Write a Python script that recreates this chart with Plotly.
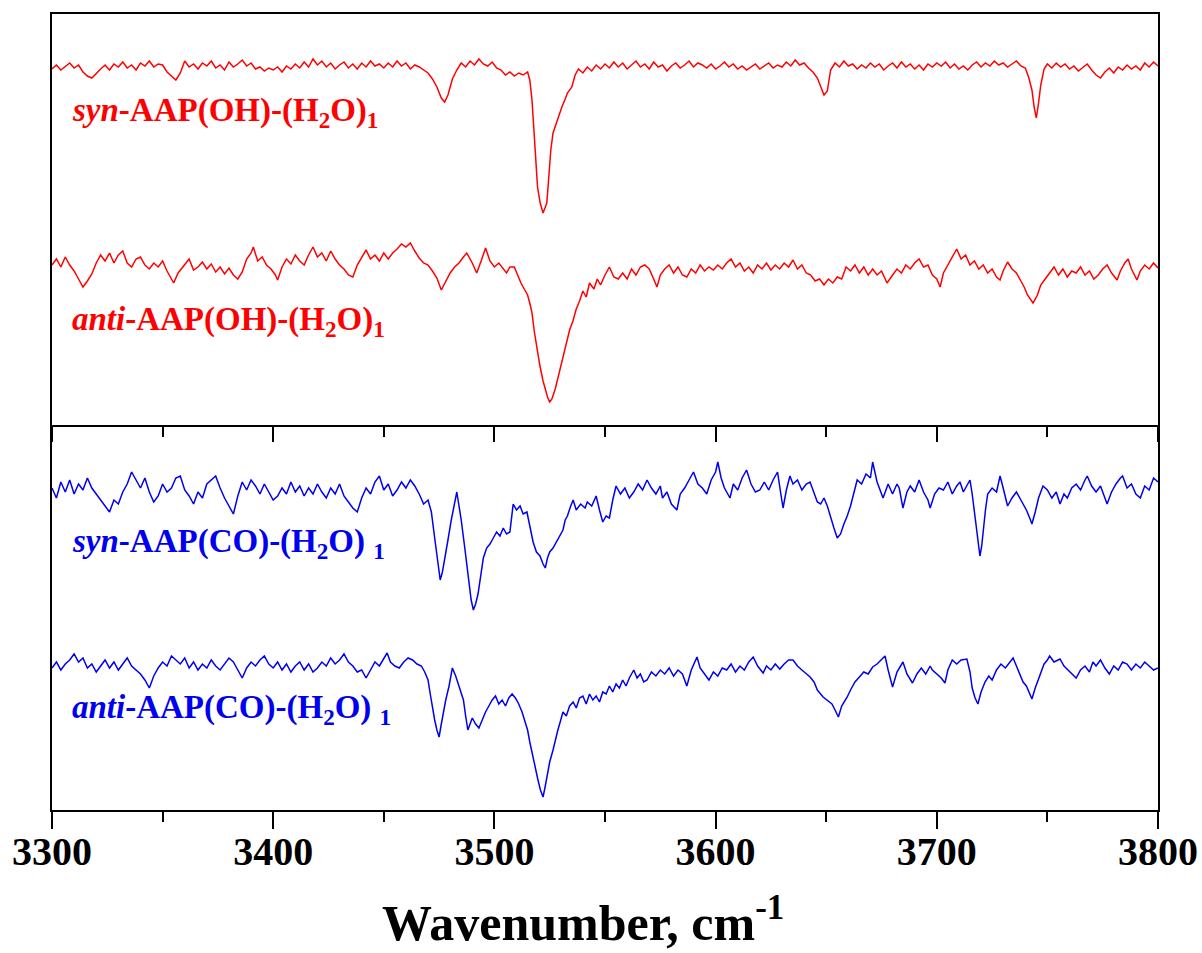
import plotly.graph_objects as go

# Wavenumber (cm^-1) and signal (a.u.) pairs for each spectrum
syn_oh = [(3300,356),(3302,360),(3304,355),(3306,359),(3308,362),(3310,357),(3312,360),(3314,353),(3316,349),(3318,347),(3320,352),(3322,356),(3324,360),(3326,355),(3328,361),(3330,358),(3332,363),(3334,357),(3336,360),(3338,355),(3340,362),(3342,359),(3344,364),(3346,358),(3348,361),(3350,360),(3352,353),(3354,349),(3356,345),(3358,352),(3360,364),(3362,358),(3364,361),(3366,356),(3368,362),(3370,359),(3372,364),(3374,357),(3376,360),(3378,355),(3380,363),(3382,358),(3384,361),(3386,365),(3388,359),(3390,362),(3392,356),(3394,358),(3396,354),(3398,357),(3400,355),(3402,358),(3404,353),(3406,359),(3408,356),(3410,361),(3412,357),(3414,363),(3416,358),(3418,366),(3420,360),(3422,364),(3424,358),(3426,362),(3428,356),(3430,360),(3432,363),(3434,357),(3436,361),(3438,356),(3440,362),(3442,358),(3444,364),(3446,359),(3448,361),(3450,357),(3452,362),(3454,358),(3456,364),(3458,359),(3460,362),(3462,356),(3464,360),(3466,358),(3468,355),(3470,352),(3472,346),(3474,338),(3476,327),(3477.5,323),(3479,330),(3481,346),(3483,355),(3485,362),(3487,358),(3489,364),(3491,360),(3493,366),(3495,361),(3497,359),(3499,363),(3501,357),(3503,355),(3505,350),(3507,353),(3509,349),(3511,352),(3513,350),(3515,353),(3516,345),(3517,325),(3518,285),(3519.5,238),(3520.7,222),(3522,212),(3523.7,222),(3524.7,252),(3525.5,275),(3526.5,292),(3528,302),(3529,310),(3530.5,318),(3532,326),(3533,332),(3535,338),(3536.5,350),(3538,356),(3540,352),(3542,358),(3544,354),(3546,360),(3548,356),(3550,361),(3552,357),(3554,363),(3556,358),(3558,362),(3560,356),(3562,360),(3564,364),(3566,358),(3568,361),(3570,356),(3572,363),(3574,358),(3576,360),(3578,354),(3580,359),(3582,362),(3584,357),(3586,360),(3588,364),(3590,358),(3592,362),(3594,360),(3596,357),(3598,361),(3600,356),(3602,359),(3604,363),(3606,358),(3608,361),(3610,356),(3612,359),(3614,355),(3616,358),(3618,361),(3620,356),(3622,359),(3624,362),(3626,357),(3628,360),(3630,358),(3632,363),(3634,359),(3636,365),(3638,360),(3640,362),(3642,357),(3644,353),(3646,347),(3647.5,338),(3649,330),(3650.5,334),(3652,355),(3654,362),(3656,358),(3658,364),(3660,359),(3662,361),(3664,356),(3666,360),(3668,357),(3670,362),(3672,358),(3674,361),(3676,355),(3678,359),(3680,362),(3682,357),(3684,363),(3686,358),(3688,361),(3690,356),(3692,360),(3694,355),(3696,361),(3698,358),(3700,362),(3702,359),(3704,363),(3706,357),(3708,361),(3710,356),(3712,359),(3714,355),(3716,360),(3718,363),(3720,358),(3722,362),(3724,359),(3726,364),(3728,360),(3730,362),(3732,358),(3734,361),(3736,364),(3738,359),(3740,357),(3741.5,348),(3743,335),(3744,318),(3745,307),(3746,322),(3747,340),(3748.5,356),(3750,361),(3752,357),(3754,362),(3756,358),(3758,361),(3760,356),(3762,359),(3764,354),(3766,358),(3768,361),(3770,355),(3772,350),(3774,347),(3776,353),(3778,357),(3780,352),(3782,358),(3784,355),(3786,360),(3788,356),(3790,359),(3792,355),(3794,362),(3796,358),(3798,363),(3800,359)]

anti_oh = [(3300,160),(3302,166),(3304,158),(3306,168),(3308,160),(3310,154),(3312,146),(3314,138),(3316,144),(3318,151),(3320,162),(3322,170),(3324,164),(3326,172),(3328,162),(3330,170),(3332,174),(3334,162),(3336,158),(3338,166),(3340,168),(3342,160),(3344,156),(3346,162),(3348,158),(3350,164),(3352,154),(3354,146),(3355,142),(3357,152),(3360,160),(3362,166),(3364,155),(3366,158),(3368,163),(3370,156),(3372,161),(3374,153),(3376,158),(3378,151),(3380,157),(3382,150),(3384,146),(3386,153),(3388,166),(3390,172),(3391,178),(3393,164),(3395,168),(3397,160),(3399,156),(3401,150),(3402,145),(3404,158),(3406,166),(3408,161),(3410,170),(3412,164),(3414,160),(3416,170),(3418,178),(3420,168),(3422,172),(3424,164),(3426,174),(3428,166),(3430,160),(3432,156),(3434,150),(3436,148),(3438,160),(3440,168),(3442,175),(3444,166),(3446,170),(3448,164),(3450,172),(3452,166),(3454,172),(3456,176),(3458,181),(3460,178),(3462,182),(3464,174),(3466,167),(3468,162),(3470,160),(3472,154),(3474,147),(3476,135),(3478,144),(3480,152),(3482,158),(3484,162),(3486,168),(3487.5,172),(3490,162),(3492,152),(3494,164),(3496,177),(3498,164),(3500,158),(3502,162),(3504,156),(3505.5,152),(3507,158),(3509,158),(3510.5,150),(3512,142),(3513.5,136),(3515,130),(3516,122),(3517,112),(3518,94),(3519,80),(3520.5,60),(3522,44),(3523,36),(3524,28),(3525,23),(3526,26),(3527.5,36),(3529,50),(3530,60),(3531,68),(3532,76),(3533,86),(3534,95),(3535.5,104),(3537,116),(3538.5,124),(3540,134),(3541.5,128),(3543,142),(3545,136),(3546.5,146),(3548,140),(3550,150),(3552,158),(3554,148),(3556,146),(3558,152),(3560,146),(3562,156),(3564,150),(3566,158),(3568,160),(3570,156),(3572,146),(3573.5,138),(3575,150),(3577,156),(3579,160),(3581,152),(3583,158),(3585,150),(3587,148),(3589,156),(3591,152),(3593,160),(3595,154),(3597,158),(3599,155),(3601,160),(3603,156),(3605,162),(3607,166),(3609,158),(3611,162),(3613,154),(3615,158),(3617,152),(3619,160),(3621,156),(3623,162),(3625,155),(3627,160),(3629,156),(3631,162),(3633,158),(3635,165),(3637,156),(3639,160),(3641,152),(3643,150),(3645,144),(3647,146),(3649,140),(3651,146),(3653,142),(3655,148),(3657,146),(3659,158),(3661,154),(3663,160),(3665,152),(3667,158),(3669,150),(3671,156),(3673,150),(3675,154),(3677.5,142),(3680,150),(3682,156),(3684,152),(3686,160),(3688,156),(3690,162),(3692,166),(3694,158),(3696,160),(3698,150),(3700,146),(3701.5,138),(3703,152),(3705,160),(3707,168),(3709,176),(3711,166),(3713,170),(3715,160),(3717,164),(3719,156),(3721,160),(3723,152),(3725,156),(3727,148),(3728.6,145),(3730,154),(3732,163),(3734,156),(3736,152),(3738,144),(3739.5,138),(3741,130),(3743.5,122),(3745.5,130),(3747,140),(3749,146),(3751,152),(3753,158),(3755,150),(3757,156),(3759,148),(3761,154),(3763,152),(3765,158),(3767,150),(3769,154),(3771,146),(3773,150),(3775,156),(3777,160),(3779,152),(3781.5,145),(3783,154),(3785,162),(3786.5,166),(3788,156),(3790.5,145),(3792,154),(3794,160),(3796,156),(3798,162),(3800,157)]

syn_co = [(3300,322),(3302,312),(3304,328),(3306,318),(3308,330),(3310,316),(3312,326),(3314,320),(3316,332),(3318,322),(3320,316),(3322,310),(3324,304),(3326,298),(3328,310),(3330,306),(3332,318),(3334,326),(3336,338),(3338,330),(3340,322),(3342,332),(3344,318),(3346,308),(3348,314),(3350,326),(3352,318),(3354,322),(3356,332),(3358,334),(3360,320),(3362,314),(3364,306),(3366,318),(3368,312),(3370,326),(3372,330),(3374,334),(3376,322),(3378,312),(3380,304),(3382,296),(3384,314),(3386,328),(3388,320),(3390,330),(3392,324),(3394,316),(3396,326),(3398,318),(3400,310),(3402,314),(3404,322),(3406,316),(3408,328),(3410,318),(3412,324),(3414,314),(3416,322),(3418,316),(3420,326),(3422,318),(3424,312),(3426,322),(3428,316),(3430,326),(3432,314),(3434,308),(3436,302),(3438,298),(3440,312),(3442,322),(3444,316),(3446,328),(3448,334),(3450,320),(3452,326),(3454,314),(3456,320),(3458,328),(3460,322),(3462,330),(3464,324),(3466,316),(3468,306),(3470,310),(3471.5,298),(3473,272),(3474.5,244),(3475.5,230),(3476.5,238),(3477.7,252),(3479,270),(3480.5,290),(3482,306),(3483,318),(3484,304),(3485,290),(3486.5,264),(3487.5,246),(3488.5,228),(3489.5,210),(3490.5,200),(3491.5,206),(3492.6,216),(3494,238),(3495,252),(3496.5,262),(3498,266),(3499.5,272),(3501,278),(3502.5,274),(3504,282),(3505.5,276),(3507,278),(3508.5,306),(3510,300),(3511.6,304),(3513,296),(3514.7,298),(3516,284),(3517.5,268),(3519,258),(3520.6,254),(3522,246),(3523,242),(3524,252),(3525,258),(3526.5,262),(3528,268),(3529.5,274),(3531,280),(3532,290),(3533,294),(3534.5,304),(3535.6,310),(3537,300),(3539,306),(3541,302),(3542,308),(3544,304),(3546,314),(3547.5,300),(3549,288),(3550.5,294),(3552,292),(3553.5,310),(3555,324),(3557,316),(3559,322),(3561,312),(3563,318),(3565,326),(3567,320),(3569,330),(3571,322),(3573,316),(3575,324),(3576,312),(3578,318),(3580,306),(3582.5,300),(3584,316),(3586,322),(3588,330),(3590,338),(3592,326),(3594,322),(3596,316),(3598,330),(3600,338),(3601,348),(3602.5,332),(3604,322),(3606.5,312),(3608,326),(3610,320),(3612,332),(3614,340),(3616,326),(3618,318),(3620,320),(3622,328),(3624,320),(3626,330),(3628,338),(3629.5,316),(3630.5,302),(3632,320),(3633.6,334),(3635,326),(3637,330),(3639,320),(3641,326),(3642.7,328),(3644.5,316),(3646,308),(3647.5,306),(3649,312),(3650.5,304),(3652,292),(3653.5,282),(3655,272),(3656.5,276),(3658,286),(3659.5,294),(3661,304),(3662.5,318),(3664,330),(3666,326),(3668,336),(3670,332),(3671,348),(3673,328),(3675.7,312),(3678,326),(3680,316),(3682,326),(3683,322),(3684.7,302),(3686.5,318),(3688,324),(3690,318),(3692,330),(3694,318),(3696,310),(3697,302),(3699,316),(3701,322),(3703,320),(3705,328),(3707,316),(3709,324),(3710.5,328),(3712,318),(3714,326),(3715,330),(3716,316),(3717,298),(3718,280),(3718.8,266),(3719.5,254),(3720.3,264),(3721,280),(3722,300),(3723,316),(3725,322),(3727,318),(3728.6,334),(3730,322),(3732,304),(3734,312),(3736,318),(3738,310),(3739,306),(3740.5,300),(3742,292),(3743,286),(3744.5,298),(3746,312),(3748,324),(3750,320),(3752,312),(3754,318),(3755.7,306),(3757.5,316),(3759,312),(3761,322),(3763,326),(3765,320),(3767,330),(3768,334),(3770,324),(3772,318),(3774,324),(3775.5,314),(3777,306),(3779,318),(3781,326),(3783,332),(3784,334),(3786,322),(3788,326),(3790,316),(3792,312),(3794,324),(3796,320),(3798,332),(3800,328)]

anti_co = [(3300,142),(3302,148),(3304,140),(3306,146),(3308,150),(3310,156),(3312,148),(3314,152),(3316,142),(3318,146),(3320,138),(3322,144),(3324,150),(3326,142),(3328,148),(3330,140),(3332,146),(3334,152),(3336,144),(3338,140),(3340,136),(3342,130),(3344,122),(3346,134),(3348,142),(3350,148),(3352,144),(3354,154),(3356,150),(3358,146),(3360,152),(3362,142),(3364,148),(3366,140),(3368,146),(3370,142),(3372,150),(3374,144),(3376,140),(3378,146),(3380,152),(3382,148),(3384,140),(3386,132),(3388,142),(3390,148),(3392,144),(3394,150),(3396,154),(3398,146),(3400,142),(3402,148),(3404,140),(3406,146),(3408,138),(3410,144),(3412,148),(3414,140),(3416,146),(3418,138),(3420,142),(3422,148),(3424,144),(3426,152),(3428,146),(3430,150),(3432,156),(3434,148),(3436,144),(3438,138),(3440,140),(3442,132),(3444,140),(3446,148),(3448,144),(3450,152),(3451.5,157),(3453,148),(3455,144),(3457,142),(3459,148),(3461,152),(3463,150),(3465,146),(3467,144),(3468.5,138),(3470,130),(3471,116),(3472,102),(3473,90),(3474,80),(3475,73),(3476,86),(3477,100),(3478,110),(3479.5,124),(3481,142),(3482.5,134),(3483.7,126),(3485,116),(3486,110),(3487,94),(3488,80),(3489,86),(3490,92),(3491.5,86),(3493,82),(3494.5,90),(3496,98),(3497.5,104),(3499,110),(3500.5,114),(3502,106),(3503.5,110),(3505,104),(3506.5,112),(3508,116),(3509.5,112),(3511,106),(3512.5,98),(3514,88),(3515,80),(3516,68),(3517.5,52),(3518.5,40),(3519.7,30),(3520.8,20),(3522,13),(3523,24),(3524,36),(3525,48),(3526.5,60),(3527.5,70),(3528.7,80),(3530,90),(3531,98),(3532.5,94),(3534,104),(3535.6,108),(3537,102),(3538.5,112),(3540,114),(3541.5,106),(3543,116),(3544.5,110),(3546,114),(3547.5,108),(3549,118),(3550.5,116),(3552,124),(3553.5,118),(3555,126),(3556.5,122),(3558,130),(3559.5,124),(3561,132),(3563,140),(3564.5,132),(3566,136),(3567.5,128),(3569,130),(3571,138),(3573,134),(3575,140),(3577,136),(3579,142),(3581,134),(3583,140),(3585,136),(3587,124),(3589,140),(3591.6,153),(3593,142),(3595,136),(3597,130),(3599,138),(3601,134),(3603,142),(3605,140),(3607,146),(3609,138),(3611,144),(3613,140),(3615,148),(3617,153),(3619,144),(3621.5,137),(3623,144),(3625,140),(3627,146),(3629,141),(3631,146),(3633,150),(3635,150),(3637,144),(3639,140),(3641,136),(3642.7,133),(3644.5,128),(3646,120),(3648.6,113),(3650.5,110),(3652.6,106),(3654,100),(3655.5,93),(3657,104),(3659.5,113),(3661,120),(3663,128),(3665,133),(3667,138),(3669,136),(3671,143),(3673,146),(3675,150),(3676.6,154),(3678,140),(3680,123),(3682,138),(3684.7,148),(3686.5,136),(3689,127),(3691,136),(3693,142),(3695,136),(3697,144),(3698,140),(3700,136),(3702,132),(3703.7,127),(3705,140),(3707,150),(3709,146),(3711,150),(3713.6,151),(3715,138),(3716,122),(3717.3,112),(3718.6,106),(3720,118),(3721.8,128),(3723.5,134),(3725,130),(3727,140),(3729,146),(3731,142),(3733,148),(3734.5,152),(3736,144),(3737.5,136),(3739,128),(3740.5,124),(3742,116),(3743,111),(3744.5,122),(3746.7,136),(3748.5,146),(3750,150),(3751,154),(3753,148),(3755.7,151),(3757.5,144),(3759.5,140),(3761,136),(3763,132),(3765,140),(3767,144),(3769,138),(3770.6,148),(3772,144),(3774,150),(3776,142),(3778,136),(3780,144),(3782,140),(3784,148),(3786,146),(3788,140),(3790,146),(3792,142),(3794,148),(3796,144),(3798,140),(3800,142)]

labels = {
    "syn_oh": "<i>syn</i>-AAP(OH)-(H<sub>2</sub>O)<sub>1</sub>",
    "anti_oh": "<i>anti</i>-AAP(OH)-(H<sub>2</sub>O)<sub>1</sub>",
    "syn_co": "<i>syn</i>-AAP(CO)-(H<sub>2</sub>O) <sub>1</sub>",
    "anti_co": "<i>anti</i>-AAP(CO)-(H<sub>2</sub>O) <sub>1</sub>",
}
x_ticks = [3300, 3400, 3500, 3600, 3700, 3800]
x_title = "Wavenumber, cm<sup>-1</sup>"

RED = "#ff0000"
BLUE = "#0000f0"
FONT = "Liberation Serif"

def unzip(pairs):
    return [p[0] for p in pairs], [p[1] for p in pairs]

fig = go.Figure()
for data, color, xa, ya in [(syn_oh, RED, "x2", "y"), (anti_oh, RED, "x2", "y"),
                            (syn_co, BLUE, "x", "y2"), (anti_co, BLUE, "x", "y2")]:
    xs, ys = unzip(data)
    fig.add_trace(go.Scatter(x=xs, y=ys, mode="lines", xaxis=xa, yaxis=ya,
                             line=dict(color=color, width=1.5), showlegend=False,
                             hoverinfo="skip"))

split = 385 / 796
fig.update_layout(
    width=1202, height=953,
    margin=dict(l=52, r=44, t=14, b=143, autoexpand=False),
    paper_bgcolor="white", plot_bgcolor="white",
    xaxis=dict(range=[3300, 3800], anchor="y2", tickvals=x_ticks,
               showline=True, linewidth=2, linecolor="black", mirror=False,
               ticks="outside", ticklen=17, tickwidth=2, tickcolor="black",
               minor=dict(ticks="outside", ticklen=10, tickwidth=2, tickcolor="black", dtick=50, tick0=3300),
               tickfont=dict(family=FONT, size=40, color="black", weight="bold"),
               ticklabelstandoff=-12, automargin=False,
               showgrid=False, zeroline=False),
    xaxis2=dict(range=[3300, 3800], anchor="y", matches="x", tickvals=x_ticks,
                showline=True, linewidth=2, linecolor="black", mirror=True,
                ticks="outside", ticklen=15, tickwidth=2, tickcolor="black",
                minor=dict(ticks="outside", ticklen=10, tickwidth=2, tickcolor="black", dtick=50, tick0=3300),
                showticklabels=False, showgrid=False, zeroline=False, automargin=False),
    yaxis=dict(domain=[split, 1], range=[0, 411], showline=True, linewidth=2,
               linecolor="black", mirror=True, ticks="", showticklabels=False,
               showgrid=False, zeroline=False, automargin=False),
    yaxis2=dict(domain=[0, split], range=[0, 385], showline=True, linewidth=2,
                linecolor="black", mirror=True, ticks="", showticklabels=False,
                showgrid=False, zeroline=False, automargin=False),
)

def label(text, color, ypaper):
    fig.add_annotation(text=text, xref="paper", yref="paper", x=0.0163, y=ypaper,
                       xanchor="left", yanchor="middle", showarrow=False,
                       font=dict(family=FONT, size=33, color=color, weight="bold"))

label(labels["syn_oh"], RED, 0.876)
label(labels["anti_oh"], RED, 0.614)
label(labels["syn_co"], BLUE, 0.335)
label(labels["anti_co"], BLUE, 0.126)

fig.add_annotation(text=x_title, xref="paper", yref="paper", x=0.48, y=-0.137,
                   xanchor="center", yanchor="middle", showarrow=False,
                   font=dict(family=FONT, size=50, color="black", weight="bold"))

fig.write_html("out.html", config={"displayModeBar": False},
               post_script="document.body.style.margin='0';")
